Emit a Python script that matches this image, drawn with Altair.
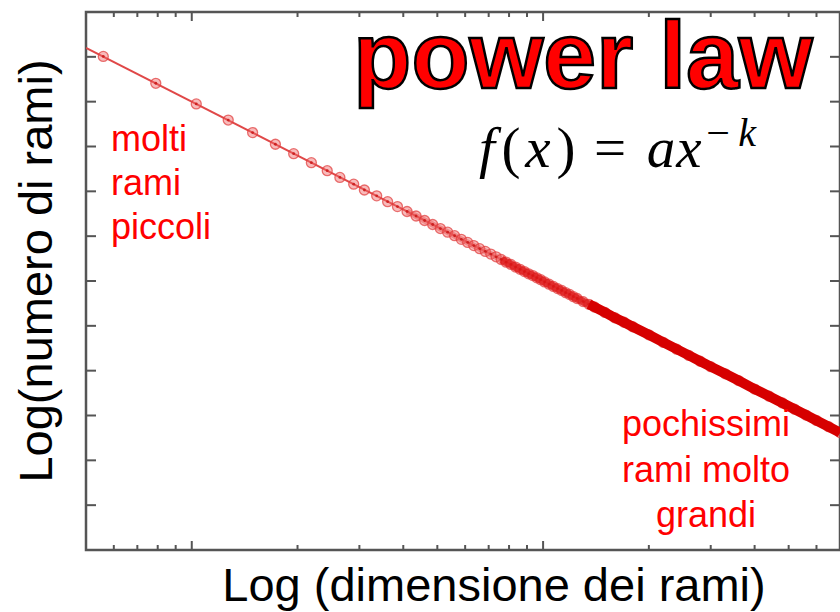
import altair as alt
import pandas as pd

# Branch size (x, log axis) and log of the number of branches (y)
size_x = [5.6, 7.9, 10.3, 12.7, 14.9, 17.3, 19.5, 21.9, 24.3, 26.4,
          28.9, 31.0, 33.6, 36.1, 38.5, 41, 43.5, 46, 48.5, 51,
          53.5, 56, 58.5, 61, 63.5, 66, 68.5, 71, 73.5, 76,
          78.5, 81, 83.5, 86, 88.5, 91, 93.5, 96, 98.5, 101,
          104, 107, 110, 113, 116, 119, 122, 125, 130, 135,
          140, 150, 160, 170, 180, 200, 220, 240, 260, 280,
          300, 330, 360, 400, 440, 480, 520, 560, 600, 650,
          700]
log_count = [11.01, 10.41, 9.95, 9.59, 9.31, 9.05, 8.84, 8.64, 8.46, 8.31,
             8.16, 8.03, 7.90, 7.77, 7.66, 7.55, 7.45, 7.35, 7.26, 7.17,
             7.09, 7.01, 6.93, 6.86, 6.79, 6.72, 6.66, 6.60, 6.54, 6.48,
             6.42, 6.37, 6.31, 6.26, 6.21, 6.16, 6.12, 6.07, 6.03, 5.98,
             5.93, 5.88, 5.83, 5.79, 5.74, 5.70, 5.65, 5.61, 5.54, 5.48,
             5.42, 5.30, 5.18, 5.08, 4.98, 4.80, 4.63, 4.48, 4.34, 4.21,
             4.09, 3.93, 3.78, 3.59, 3.43, 3.28, 3.14, 3.01, 2.89, 2.75,
             2.62]

# Fitted power-law line across the whole range
fit_x = [5, 700]
fit_y = [11.20, 2.63]

# Tick positions (frame ticks, no labels)
x_minor_ticks = [6, 7, 8, 9, 20, 30, 40, 50, 60, 70, 80, 90,
                 200, 300, 400, 500, 600]
x_major_ticks = [10, 100]
y_ticks = [1, 2, 3, 4, 5, 6, 7, 8, 9, 10, 11]

W, H = 754, 538
SANS = "Liberation Sans"
SERIF = "Liberation Serif"

xs = alt.Scale(type="log", domain=[5, 700], nice=False, zero=False)
ys = alt.Scale(domain=[0, 12], nice=False, zero=False)

pts = pd.DataFrame({"branch_size": size_x, "logn": log_count})
fit = pd.DataFrame({"branch_size": fit_x, "logn": fit_y})

X = alt.X("branch_size:Q", scale=xs, axis=None)
Y = alt.Y("logn:Q", scale=ys, axis=None)

fit_line = alt.Chart(fit).mark_line(color="#e04848", strokeWidth=2, clip=True).encode(x=X, y=Y)


def crowd_band(start, width, color, opacity):
    """Thicker stroke over the part of the series where points overlap."""
    return alt.Chart(pts).transform_filter(
        alt.FieldGTEPredicate(field="branch_size", gte=start)
    ).mark_line(color=color, strokeWidth=width, opacity=opacity, clip=True).encode(x=X, y=Y)


markers = alt.Chart(pts).mark_point(
    shape="circle", size=100, filled=True, fill="#f06868", fillOpacity=0.45,
    stroke="#e03a3a", strokeWidth=1.3, strokeOpacity=0.7, clip=True
).encode(x=X, y=Y)

centers = alt.Chart(pts).mark_point(
    shape="circle", size=8, filled=True, color="#c81818", opacity=0.85, clip=True
).encode(x=X, y=Y)

TICK = "#555555"
xmin = pd.DataFrame({"t": x_minor_ticks})
xmaj = pd.DataFrame({"t": x_major_ticks})
ytk = pd.DataFrame({"v": y_ticks})
TX = alt.X("t:Q", scale=xs, axis=None)
TY = alt.Y("v:Q", scale=ys, axis=None)

ticks = [
    alt.Chart(xmin).mark_rule(color=TICK, strokeWidth=2).encode(x=TX, y=alt.value(H), y2=alt.value(H - 5)),
    alt.Chart(xmin).mark_rule(color=TICK, strokeWidth=2).encode(x=TX, y=alt.value(0), y2=alt.value(5)),
    alt.Chart(xmaj).mark_rule(color=TICK, strokeWidth=2).encode(x=TX, y=alt.value(H), y2=alt.value(H - 9)),
    alt.Chart(xmaj).mark_rule(color=TICK, strokeWidth=2).encode(x=TX, y=alt.value(0), y2=alt.value(9)),
    alt.Chart(ytk).mark_rule(color=TICK, strokeWidth=2).encode(y=TY, x=alt.value(0), x2=alt.value(10)),
    alt.Chart(ytk).mark_rule(color=TICK, strokeWidth=2).encode(y=TY, x=alt.value(W - 10), x2=alt.value(W)),
]


def label(text, x, y, size, color="black", align="left", font=SANS,
          weight="normal", style="normal", angle=0, stroke=None, stroke_width=0):
    kw = dict(align=align, baseline="alphabetic", font=font, fontSize=size,
              fontWeight=weight, fontStyle=style, color=color, angle=angle)
    if stroke:
        kw.update(stroke=stroke, strokeWidth=stroke_width)
    return alt.Chart(alt.Data(values=[{"t": text}])).mark_text(**kw).encode(
        x=alt.value(x), y=alt.value(y), text="t:N")


RED = "#ff0000"
texts = [
    label("power law", 497, 76, 95, color=RED, align="center", weight="bold",
          stroke="black", stroke_width=2.5),
    # f(x) = a x^(-k)
    label("f", 401, 155, 57, font=SERIF, style="italic", align="center"),
    label("(", 425, 155, 57, font=SERIF, align="center"),
    label("x", 452, 155, 57, font=SERIF, style="italic", align="center"),
    label(")", 480, 155, 57, font=SERIF, align="center"),
    label("=", 524, 155, 57, font=SERIF, align="center"),
    label("a", 575, 155, 57, font=SERIF, style="italic", align="center"),
    label("x", 603, 155, 57, font=SERIF, style="italic", align="center"),
    label("\u2212", 632, 135, 42, font=SERIF, align="center"),
    label("k", 661, 134, 40, font=SERIF, style="italic", align="center"),
    # annotations
    label("molti", 25, 139, 36, color=RED),
    label("rami", 25, 183, 36, color=RED),
    label("piccoli", 25, 227, 36, color=RED),
    label("pochissimi", 620, 424, 36, color=RED, align="center"),
    label("rami molto", 620, 470, 36, color=RED, align="center"),
    label("grandi", 620, 515, 36, color=RED, align="center"),
    # axis titles
    label("Log(numero di rami)", -34, 259, 47, align="center", angle=270),
    label("Log (dimensione dei rami)", 408, 589, 47, align="center"),
]

layers = [
    fit_line,
    crowd_band(40, 6, "#e23636", 0.45),
    markers,
    centers,
    crowd_band(75, 8, "#dc1414", 0.75),
    crowd_band(135, 10, "#d60000", 1.0),
]

chart = alt.layer(*layers, *ticks, *texts).properties(
    width=W, height=H,
    autosize=alt.AutoSizeParams(type="none"),
    padding={"left": 86, "top": 12, "right": 0, "bottom": 62},
    background="white",
).configure_view(stroke="#555555", strokeWidth=2.5)

chart.save("out.html", embed_options={"renderer": "svg", "actions": False})
